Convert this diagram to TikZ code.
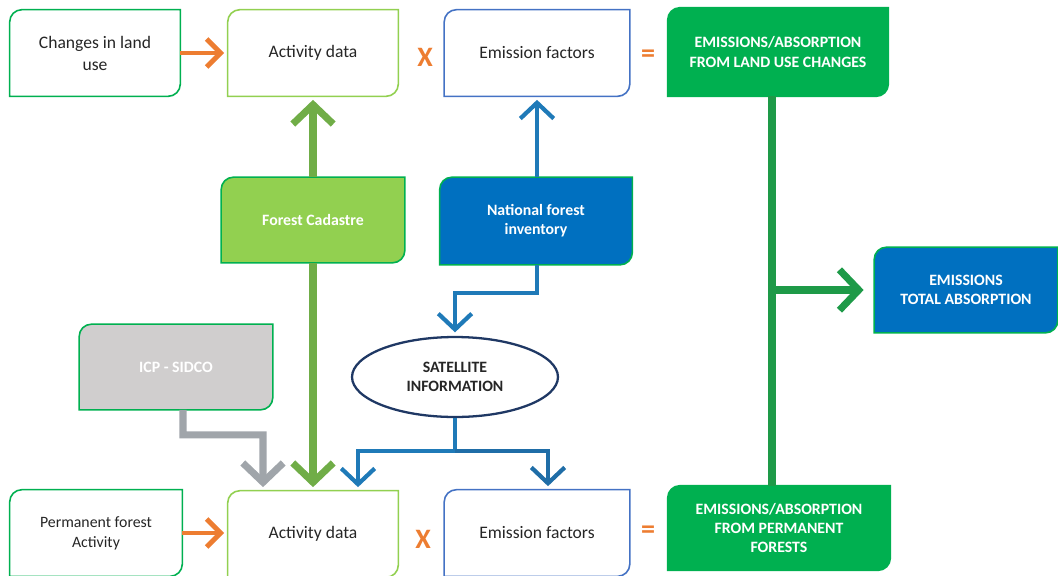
\documentclass[tikz,border=0pt]{standalone}
\usepackage{fontspec}
\setmainfont{Carlito}
\usetikzlibrary{arrows.meta,shapes.geometric,backgrounds}

\definecolor{orng}{HTML}{ED7D31}
\definecolor{grn}{HTML}{00B050}
\definecolor{lgrn}{HTML}{92D050}
\definecolor{olive}{HTML}{70AD47}
\definecolor{dgrn}{HTML}{1E9A48}
\definecolor{blu}{HTML}{0070C0}
\definecolor{ablu}{HTML}{1F7AB8}
\definecolor{navy}{HTML}{1F3864}
\definecolor{efblu}{HTML}{4472C4}
\definecolor{gry}{HTML}{D0CECE}
\definecolor{agry}{HTML}{A0A5AA}
\definecolor{txt}{HTML}{262626}

\tikzset{
  box/.style={inner sep=0pt, align=center, text=txt, font=\fontsize{10}{12.5}\selectfont},
  whitebox/.style={box, text=white, font=\fontsize{9}{11}\selectfont\bfseries},
  op/.style={text=orng, font=\fontsize{16}{16}\selectfont\bfseries},
  stip/.style={-{Straight Barb[length=8pt,width=16pt]}, shorten >=2pt},
  mtip/.style={-{Straight Barb[length=9pt,width=19pt]}, shorten >=2pt},
  btip/.style={-{Straight Barb[length=11pt,width=23pt]}, shorten >=2pt},
}

\begin{document}
\begin{tikzpicture}[x=0.02cm, y=-0.02cm]
 \useasboundingbox (0,0) rectangle (1058,575);

 % top row
 \node[box, minimum width=3.4cm, minimum height=1.72cm] (lu) at (95,53) {Changes in land\\use};
 \node[box, minimum width=3.4cm, minimum height=1.72cm] (ad1) at (313,53) {Activity data};
 \node[op] (x1) at (425,57) {X};
 \node[box, minimum width=3.7cm, minimum height=1.72cm] (ef1) at (537,53) {Emission factors};
 \node[op] (eq1) at (648,56) {=};
 \node[whitebox, minimum width=4.4cm, minimum height=1.76cm] (out1) at (778,52) {EMISSIONS/ABSORPTION\\FROM LAND USE CHANGES};

 % sources
 \node[whitebox, minimum width=3.66cm, minimum height=1.7cm] (cad) at (313,220) {Forest Cadastre};
 \node[whitebox, minimum width=3.84cm, minimum height=1.74cm] (nfi) at (536,221) {National forest\\inventory};
 \node[whitebox, minimum width=3.86cm, minimum height=1.7cm] (icp) at (176,367) {ICP - SIDCO};
 \node[ellipse, draw=navy, line width=1.3pt, fill=white, minimum width=4.12cm, minimum height=1.6cm,
       inner sep=0pt, align=center, text=txt, font=\fontsize{9}{11}\selectfont\bfseries] (sat) at (455,377) {SATELLITE\\INFORMATION};
 \node[whitebox, minimum width=3.66cm, minimum height=1.7cm] (tot) at (966,290) {EMISSIONS\\TOTAL ABSORPTION};

 % bottom row
 \node[box, font=\fontsize{9}{11.5}\selectfont, minimum width=3.44cm, minimum height=1.72cm] (pf) at (96,533) {Permanent forest\\Activity};
 \node[box, minimum width=3.4cm, minimum height=1.72cm] (ad2) at (313,534) {Activity data};
 \node[op] (x2) at (423,539) {X};
 \node[box, minimum width=3.7cm, minimum height=1.72cm] (ef2) at (537,533) {Emission factors};
 \node[op] (eq2) at (648,532) {=};
 \node[whitebox, minimum width=4.44cm, minimum height=1.68cm] (out2) at (779,528) {EMISSIONS/ABSORPTION\\FROM PERMANENT\\FORESTS};

 % box outlines, rounded top left and bottom right
 \begin{scope}[on background layer]
 \foreach \n/\c/\f in {lu/grn/white, ad1/lgrn/white, ef1/efblu/white, out1/grn/grn,
                       cad/grn/lgrn, nfi/grn/blu, icp/grn/gry, tot/grn/blu,
                       pf/grn/white, ad2/lgrn/white, ef2/efblu/white, out2/grn/grn} {
   \draw[line width=0.9pt, draw=\c, fill=\f]
     ([yshift=-7pt]\n.north west) arc[start angle=180, end angle=90, radius=7pt]
     -- (\n.north east) -- ([yshift=7pt]\n.south east)
     arc[start angle=0, end angle=-90, radius=7pt] -- (\n.south west) -- cycle;
 }
 \end{scope}

 % arrows
 \draw[orng, line width=2.8pt, stip] (lu.east) -- (lu.east -| ad1.west);
 \draw[orng, line width=2.8pt, stip] (pf.east) -- (pf.east -| ad2.west);

 \draw[olive, line width=4pt, btip] (cad) -- (ad1);
 \draw[olive, line width=4pt, btip] (cad) -- (ad2);

 \draw[ablu, line width=2.4pt, mtip] (ef1.south |- nfi.north) -- (ef1.south);
 \draw[ablu, line width=2.4pt, mtip] (ef1.south |- nfi.south) -- ++(0,28) -| (sat.north);

 \draw[ablu, line width=2.4pt] (sat.south) -- ++(0,33) coordinate (split);
 \draw[ablu, line width=2.4pt, mtip] (split) -| ([xshift=0.9cm]ad2.north);
 \draw[ablu!80!navy, line width=2.4pt, mtip] (split) -| ([xshift=0.22cm]ef2.north);

 \draw[agry, line width=4pt, btip] ([xshift=0.14cm]icp.south) |- ++(80,25) -- ([xshift=-1cm]ad2.north);

 % totals
 \coordinate (trunk) at ([xshift=-0.12cm]out1.south);
 \draw[dgrn, line width=4pt] (trunk) -- (trunk |- out2.north);
 \draw[dgrn, line width=4pt, btip, shorten >=6pt] (trunk |- tot.west) -- (tot.west);

\end{tikzpicture}
\end{document}
